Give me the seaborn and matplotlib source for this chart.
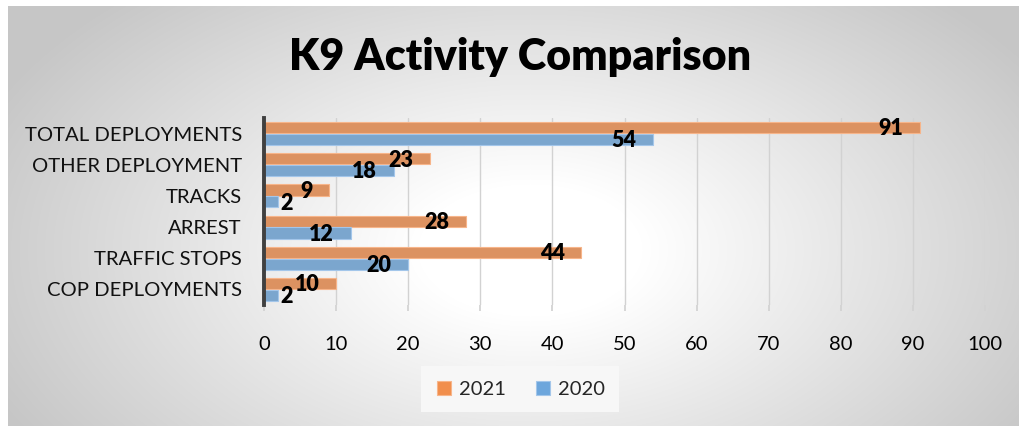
import numpy as np
import pandas as pd
import matplotlib
matplotlib.use("Agg")
import matplotlib.pyplot as plt
import seaborn as sns

# data
categories = ["TOTAL DEPLOYMENTS", "OTHER DEPLOYMENT", "TRACKS", "ARREST",
              "TRAFFIC STOPS", "COP DEPLOYMENTS"]
years = ["2021", "2020"]
vals_2021 = [91, 23, 9, 28, 44, 10]
vals_2020 = [54, 18, 2, 12, 20, 2]
x_ticks = [0, 10, 20, 30, 40, 50, 60, 70, 80, 90, 100]

df = pd.DataFrame({
    "category": categories * 2,
    "year": [years[0]] * len(categories) + [years[1]] * len(categories),
    "value": vals_2021 + vals_2020,
})

sns.set_theme(style="white")
plt.rcParams["font.family"] = ["Lato", "DejaVu Sans"]

W, H = 1020, 426
fig = plt.figure(figsize=(W / 100, H / 100), dpi=100)

# --- background: radial grey gradient with a thin white margin ---
yy, xx = np.mgrid[0:H, 0:W]
r = np.sqrt(((xx - 530) / 560.0) ** 2 + ((yy - 250) / 330.0) ** 2)
shade = 1 - 0.22 * np.clip((r - 0.2) / 0.85, 0, 1)
shade[:6, :] = 1.0
shade[:, :8] = 1.0
bg = fig.add_axes([0, 0, 1, 1], zorder=-1)
bg.imshow(np.dstack([shade] * 3), aspect="auto", interpolation="bilinear")
bg.axis("off")

# --- bar chart ---
ax = fig.add_axes([264 / W, 1 - 305 / H, (985 - 264) / W, (305 - 118) / H])
ax.set_facecolor("none")
colors = {"2021": "#F18E4C", "2020": "#6DA6DC"}
edges = {"2021": "#F7B58A", "2020": "#A3C6EA"}
sns.barplot(data=df, x="value", y="category", hue="year", hue_order=years,
            order=categories, orient="h", palette=colors, width=0.76, gap=0.05,
            linewidth=0, ax=ax)
for container, y in zip(ax.containers, years):
    for bar in container:
        bar.set_edgecolor(edges[y])
        bar.set_linewidth(0.8)

ax.set_xlim(0, 100)
ax.set_xticks(x_ticks)
ax.set_xlabel("")
ax.set_ylabel("")
ax.grid(axis="x", color="#d2d2d2", linewidth=1)
ax.set_axisbelow(True)
for s in ["top", "right", "bottom"]:
    ax.spines[s].set_visible(False)
ax.spines["left"].set_color("#404040")
ax.spines["left"].set_linewidth(2.8)
ax.tick_params(axis="x", length=4, color="#d2d2d2", pad=18, labelsize=14.5,
               labelcolor="#000000", bottom=True)
ax.tick_params(axis="y", length=0, pad=16, labelsize=14.6, labelcolor="#111111")

# value labels near the bar ends
for container in ax.containers:
    for bar in container:
        v = bar.get_width()
        yc = bar.get_y() + bar.get_height() / 2 + 0.04
        if v < 5:
            ax.text(v + 0.3, yc, f"{v:.0f}", ha="left", va="center",
                    fontsize=15.5, fontweight="heavy", color="black")
        else:
            ax.text(v - 2.3, yc, f"{v:.0f}", ha="right", va="center",
                    fontsize=15.5, fontweight="heavy", color="black")

ax.legend_.remove()
handles = [plt.Line2D([], [], marker="s", linestyle="", markersize=10,
                      markerfacecolor=colors[y], markeredgecolor=edges[y],
                      markeredgewidth=0.8) for y in years]
fig.legend(handles, years, loc="center", bbox_to_anchor=(520 / W, 1 - 389 / H),
           ncol=2, frameon=True, facecolor="#f7f7f7", edgecolor="none",
           framealpha=1, fontsize=14.5, handletextpad=0.3, columnspacing=1.4,
           borderpad=0.7, handlelength=0.9, fancybox=False)

fig.text(520 / W, 1 - 57 / H, "K9 Activity Comparison", ha="center", va="center",
         fontsize=31, fontweight="heavy", color="black")

fig.savefig("out.png", dpi=100)
